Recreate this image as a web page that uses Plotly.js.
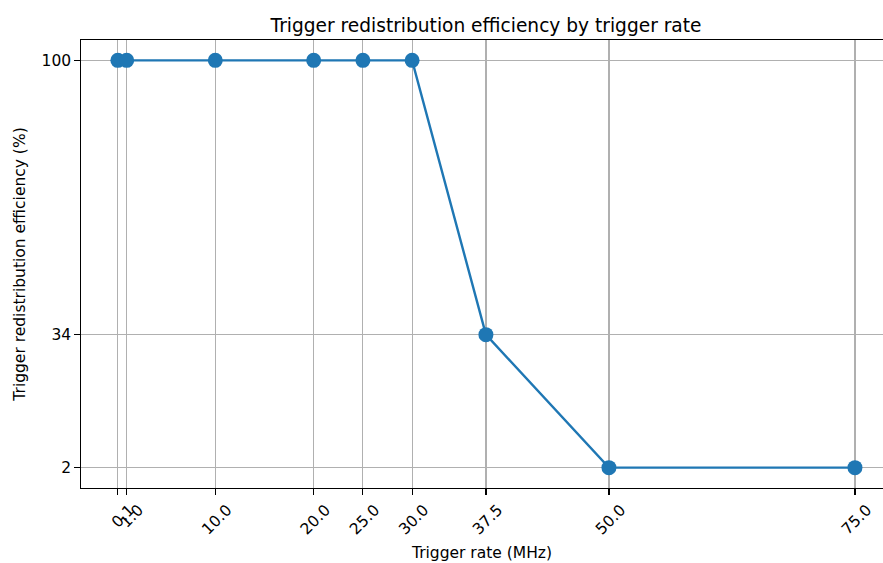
<!DOCTYPE html>
<html><head><meta charset="utf-8">
<script src="https://cdn.plot.ly/plotly-3.0.1.min.js"></script>
<style>html,body{margin:0;padding:0;background:#fff;overflow:hidden}</style>
</head><body>
<div id="chart" style="width:883px;height:563px"></div>
<script>
const rates = [0.1, 1.0, 10.0, 20.0, 25.0, 30.0, 37.5, 50.0, 75.0];
const efficiency = [100, 100, 100, 100, 100, 100, 34, 2, 2];
const xTickLabels = ["0.1", "1.0", "10.0", "20.0", "25.0", "30.0", "37.5", "50.0", "75.0"];
const yTicks = [2, 34, 100];
const yTickLabels = ["2", "34", "100"];

const font = "DejaVu Sans, sans-serif";
const trace = {
  x: rates, y: efficiency, type: "scatter", mode: "lines+markers",
  line: {color: "#1f77b4", width: 2.4},
  marker: {color: "#1f77b4", size: 15},
  hoverinfo: "skip"
};
const layout = {
  width: 883, height: 563,
  margin: {l: 81, r: 0, t: 40, b: 75},
  paper_bgcolor: "#fff", plot_bgcolor: "#fff",
  showlegend: false,
  font: {family: font, color: "#000", size: 15.5},
  title: {text: "Trigger redistribution efficiency by trigger rate", font: {family: font, size: 18.6, color: "#000"},
          x: 0.505, xref: "paper", xanchor: "center", y: 1, yref: "paper", yanchor: "bottom", pad: {b: 8}},
  xaxis: {
    range: [-3.645, 77.85], tickmode: "array", tickvals: rates, ticktext: xTickLabels,
    tickangle: -45, ticks: "outside", ticklen: 5.4, tickwidth: 1.2, tickcolor: "#000",
    ticklabelshift: 12,
    showgrid: true, gridcolor: "#b0b0b0", gridwidth: 1.2,
    showline: true, mirror: true, linecolor: "#000", linewidth: 1.3, zeroline: false,
    tickfont: {family: font, size: 15.5, color: "#000"},
    title: {text: "Trigger rate (MHz)", font: {family: font, size: 15.5, color: "#000"}, standoff: 10}
  },
  yaxis: {
    range: [-2.9, 104.9], tickmode: "array", tickvals: yTicks, ticktext: yTickLabels,
    ticks: "outside", ticklen: 5.4, tickwidth: 1.2, tickcolor: "#000",
    showgrid: true, gridcolor: "#b0b0b0", gridwidth: 1.2,
    showline: true, mirror: false, linecolor: "#000", linewidth: 1.3, zeroline: false,
    tickfont: {family: font, size: 15.5, color: "#000"},
    title: {text: "Trigger redistribution efficiency (%)", font: {family: font, size: 15.5, color: "#000"}, standoff: 12}
  }
};
Plotly.newPlot("chart", [trace], layout, {displayModeBar: false, staticPlot: true});
</script>
</body></html>
